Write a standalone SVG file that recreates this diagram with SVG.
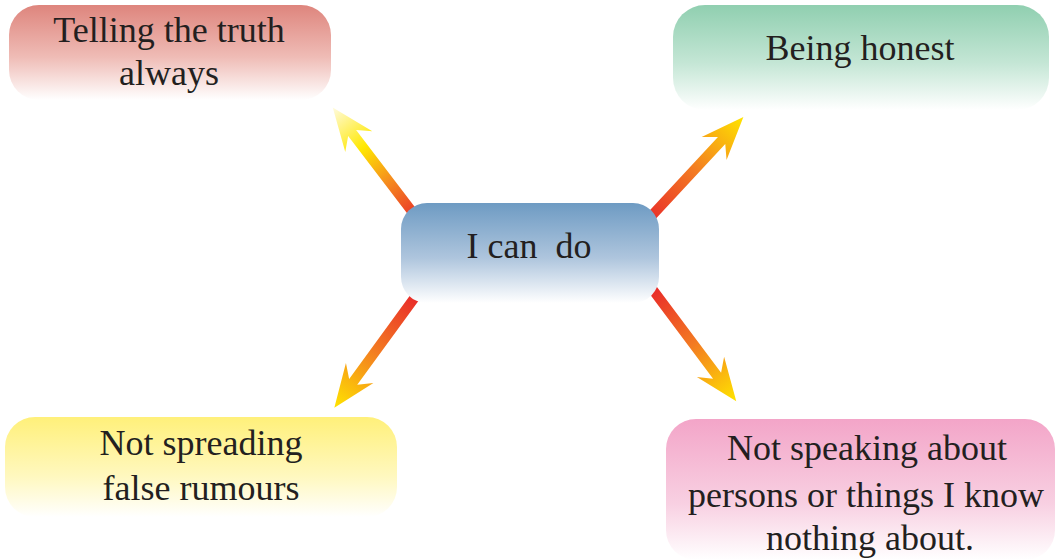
<svg xmlns="http://www.w3.org/2000/svg" width="1055" height="560" viewBox="0 0 1055 560">
<defs>
<linearGradient id="gRed" x1="0" y1="0" x2="0" y2="1"><stop offset="0" stop-color="#de857d"/><stop offset="0.55" stop-color="#efbcb6"/><stop offset="1" stop-color="#ffffff"/></linearGradient>
<linearGradient id="gGreen" x1="0" y1="0" x2="0" y2="1"><stop offset="0" stop-color="#90cfb0"/><stop offset="0.55" stop-color="#c4e6d5"/><stop offset="1" stop-color="#ffffff"/></linearGradient>
<linearGradient id="gBlue" x1="0" y1="0" x2="0" y2="1"><stop offset="0" stop-color="#6e9bc3"/><stop offset="0.55" stop-color="#aec5dd"/><stop offset="1" stop-color="#ffffff"/></linearGradient>
<linearGradient id="gYellow" x1="0" y1="0" x2="0" y2="1"><stop offset="0" stop-color="#fff07a"/><stop offset="0.6" stop-color="#fff8c0"/><stop offset="1" stop-color="#ffffff"/></linearGradient>
<linearGradient id="gPink" x1="0" y1="0" x2="0" y2="1"><stop offset="0" stop-color="#f3a5c8"/><stop offset="0.6" stop-color="#f8d0e2"/><stop offset="1" stop-color="#ffffff"/></linearGradient>
<linearGradient id="aGrad" x1="0" y1="0" x2="1" y2="0"><stop offset="0" stop-color="#e8262a"/><stop offset="0.5" stop-color="#f37a22"/><stop offset="1" stop-color="#ffe400"/></linearGradient>
<linearGradient id="aGrad2" x1="0" y1="0" x2="1" y2="0"><stop offset="0" stop-color="#e8262a"/><stop offset="0.35" stop-color="#f58a1f"/><stop offset="0.65" stop-color="#ffe800"/><stop offset="1" stop-color="#fffbe0"/></linearGradient>
</defs>
<g id="connectors">
<g transform="translate(420,222) rotate(-127.3)"><polygon points="0,-5 112,-5 101,-17 144,0 101,17 112,5 0,5" fill="url(#aGrad2)"/></g>
<g transform="translate(644,224) rotate(-47.1)"><polygon points="0,-5 114,-5 103,-17 146,0 103,17 114,5 0,5" fill="url(#aGrad)"/></g>
<g transform="translate(418,293) rotate(126.1)"><polygon points="0,-5 110,-5 99,-17 142,0 99,17 110,5 0,5" fill="url(#aGrad)"/></g>
<g transform="translate(650,286) rotate(53.2)"><polygon points="0,-5 112,-5 101,-17 144,0 101,17 112,5 0,5" fill="url(#aGrad)"/></g>
</g>
<g font-family="Liberation Serif, DejaVu Serif, serif" font-size="36" fill="#231f20" text-anchor="middle">
<g id="n-truth"><rect x="9" y="5" width="322" height="95" rx="30" fill="url(#gRed)"/><text x="169" y="42">Telling the truth</text><text x="169" y="85">always</text></g>
<g id="n-honest"><rect x="673" y="5" width="376" height="105" rx="32" fill="url(#gGreen)"/><text x="860" y="60">Being honest</text></g>
<g id="n-center"><rect x="401" y="203" width="258" height="100" rx="26" fill="url(#gBlue)"/><text x="529" y="258" xml:space="preserve">I can  do</text></g>
<g id="n-rumours"><rect x="5" y="417" width="392" height="100" rx="30" fill="url(#gYellow)"/><text x="201" y="455">Not spreading</text><text x="201" y="500">false rumours</text></g>
<g id="n-speaking"><rect x="666" y="419" width="389" height="141" rx="30" fill="url(#gPink)"/><text x="867" y="460">Not speaking about</text><text x="866" y="507">persons or things I know</text><text x="870" y="550">nothing about.</text></g>
</g>
</svg>
